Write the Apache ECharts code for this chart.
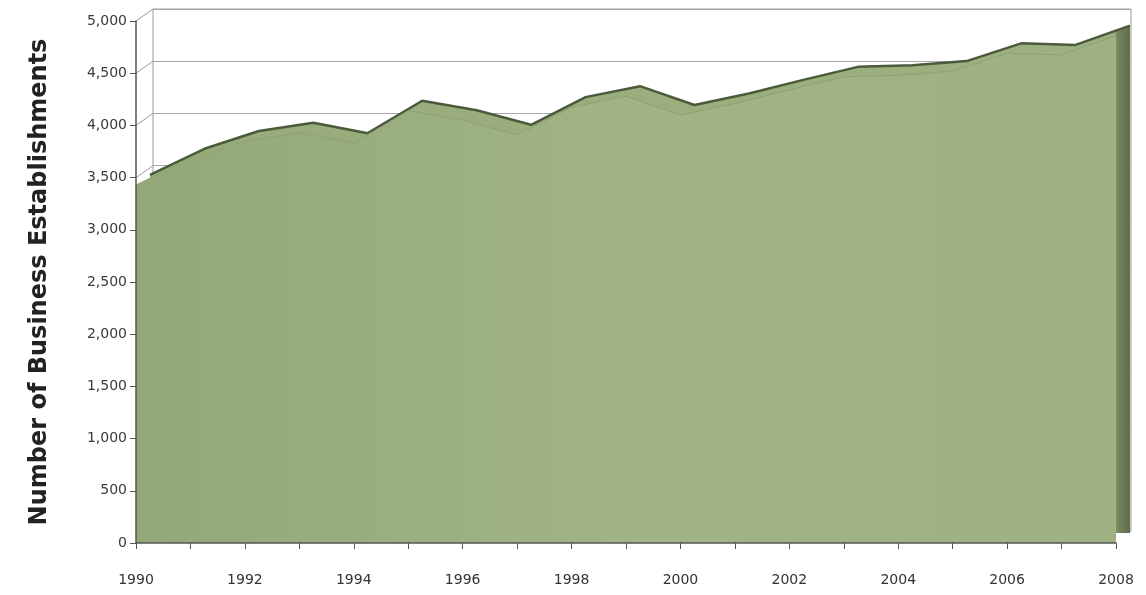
<!DOCTYPE html>
<html>
<head>
<meta charset="utf-8">
<script src="https://cdn.jsdelivr.net/npm/echarts@6/dist/echarts.min.js"></script>
<style>
  html, body { margin: 0; padding: 0; background: #fff; }
  #chart { width: 1146px; height: 595px; }
</style>
</head>
<body>
<div id="chart"></div>
<script>
const years = ['1990', '1991', '1992', '1993', '1994', '1995', '1996', '1997', '1998', '1999',
               '2000', '2001', '2002', '2003', '2004', '2005', '2006', '2007', '2008'];
const establishments = [3430, 3680, 3850, 3930, 3830, 4140, 4050, 3910, 4175, 4280,
                        4100, 4210, 4340, 4465, 4480, 4520, 4690, 4675, 4860];
const yTicks = [0, 500, 1000, 1500, 2000, 2500, 3000, 3500, 4000, 4500, 5000];

const chart = echarts.init(document.getElementById('chart'));

const hiddenX = function (i) {
    return {
        type: 'category', gridIndex: i, data: years, boundaryGap: false,
        axisLine: { show: false }, axisTick: { show: false }, axisLabel: { show: false }
    };
};
const hiddenY = function (i, split) {
    return {
        type: 'value', gridIndex: i, min: 0, max: 5000, interval: 500,
        axisLine: { show: false }, axisTick: { show: false }, axisLabel: { show: false },
        splitLine: { show: split, lineStyle: { color: '#a8a8a8', width: 1 } }
    };
};

chart.setOption({
    animation: false,
    grid: [
        // back wall
        { left: 153, right: 15, top: 9, bottom: 64, show: true, borderColor: '#9a9a9a', borderWidth: 1 },
        // depth of the area
        { left: 150, right: 16, top: 11, bottom: 62 },
        // front plane
        { left: 136, right: 30, top: 21, bottom: 52 }
    ],
    xAxis: [
        hiddenX(0),
        hiddenX(1),
        {
            type: 'category', gridIndex: 2, data: years, boundaryGap: false,
            axisLine: { lineStyle: { color: '#555', width: 1.5 } },
            axisTick: { show: true, interval: 0, length: 6, lineStyle: { color: '#555' } },
            axisLabel: {
                interval: 1, margin: 30, color: '#333', fontSize: 14,
                fontFamily: 'DejaVu Sans'
            },
            z: 10
        }
    ],
    yAxis: [
        hiddenY(0, true),
        hiddenY(1, false),
        {
            type: 'value', gridIndex: 2, min: 0, max: 5000, interval: 500,
            name: 'Number of Business Establishments',
            nameLocation: 'middle', nameGap: 84, nameRotate: 90,
            nameTextStyle: { color: '#222', fontSize: 24, fontWeight: 'bold', fontFamily: 'DejaVu Sans' },
            axisLine: { show: true, lineStyle: { color: '#555', width: 1.5 } },
            axisTick: { show: true, length: 6, lineStyle: { color: '#555' } },
            axisLabel: {
                margin: 9, color: '#3a3a3a', fontSize: 14, fontFamily: 'DejaVu Sans',
                formatter: function (v) { return v.toLocaleString('en-US'); }
            },
            splitLine: { show: false },
            z: 10
        }
    ],
    series: [
        {
            // top surface and right side of the area
            type: 'line', xAxisIndex: 1, yAxisIndex: 1, data: establishments,
            symbol: 'none', z: 2,
            lineStyle: { color: '#4c5a3c', width: 2.5 },
            areaStyle: {
                opacity: 1,
                color: new echarts.graphic.LinearGradient(0, 0, 1, 0, [
                    { offset: 0, color: '#97ab7b' },
                    { offset: 0.984, color: '#9cb080' },
                    { offset: 0.987, color: '#76865f' },
                    { offset: 1, color: '#5f6d4b' }
                ])
            }
        },
        {
            type: 'line', xAxisIndex: 2, yAxisIndex: 2, data: establishments,
            symbol: 'none', z: 3,
            lineStyle: { color: '#8ea275', width: 1 },
            areaStyle: {
                opacity: 1,
                color: new echarts.graphic.LinearGradient(0, 0, 1, 0, [
                    { offset: 0, color: '#93a878' },
                    { offset: 0.5, color: '#a0b486' },
                    { offset: 1, color: '#9db182' }
                ])
            }
        }
    ]
});

// small connectors between the front axis and the back wall
const connectors = yTicks.map(function (v) {
    const f = chart.convertToPixel({ gridIndex: 2 }, [0, v]);
    const b = chart.convertToPixel({ gridIndex: 0 }, [0, v]);
    return {
        type: 'line', z: 1,
        shape: { x1: f[0], y1: f[1], x2: b[0], y2: b[1] },
        style: { stroke: '#9a9a9a', lineWidth: 1 }
    };
});
chart.setOption({ graphic: connectors });
</script>
</body>
</html>
